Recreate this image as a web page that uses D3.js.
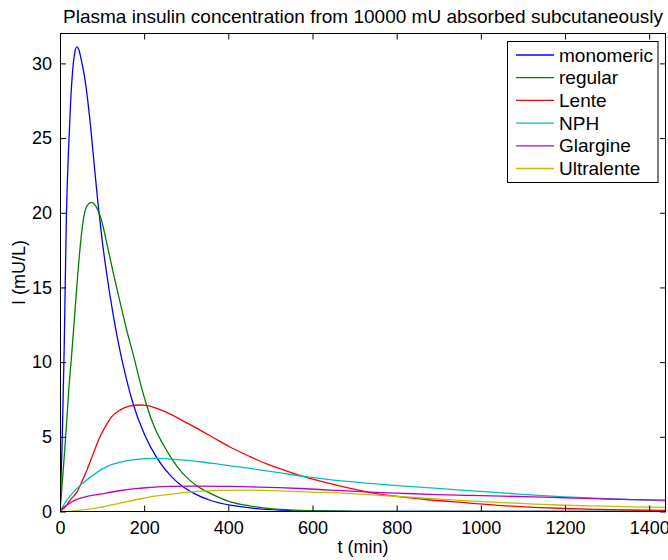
<!DOCTYPE html>
<html>
<head>
<meta charset="utf-8">
<script src="https://cdn.jsdelivr.net/npm/d3@7"></script>
<style>
  html, body { margin: 0; padding: 0; background: #fff; }
  svg { display: block; }
  text { font-family: "Liberation Sans", Arial, Helvetica, sans-serif; fill: #000; }
</style>
</head>
<body>
<svg id="chart" width="668" height="560"></svg>
<script>
// ---- data ----
const titleText = "Plasma insulin concentration from 10000 mU absorbed subcutaneously";
const xLabel = "t (min)";
const yLabel = "I (mU/L)";
const xTicks = [0, 200, 400, 600, 800, 1000, 1200, 1400];
const yTicks = [0, 5, 10, 15, 20, 25, 30];
const xDomain = [0, 1440];
const yDomain = [0, 32];

const seriesNames = ["monomeric", "regular", "Lente", "NPH", "Glargine", "Ultralente"];
const seriesColors = ["#0000ff", "#008000", "#ff0000", "#00bfbf", "#bf00bf", "#bfbf00"];

const monomericT = [0, 5, 10, 15, 20, 25, 30, 35, 40, 45, 50, 60, 70, 80, 90, 100, 110, 125, 140, 155, 175, 200, 232, 266, 290, 317, 360, 405, 460, 524, 600, 700, 800, 1440];
const monomericV = [0, 4.5, 11, 19.5, 24, 27.3, 29.5, 30.7, 31.1, 30.9, 30.3, 28.8, 26.5, 23.6, 20.7, 18.2, 16.1, 13.4, 11.1, 9.2, 7.1, 5.2, 3.5, 2.3, 1.7, 1.23, 0.72, 0.42, 0.21, 0.09, 0.035, 0.01, 0, 0];

const regularT = [0, 7, 14, 21, 28, 35, 42, 50, 57, 65, 75, 85, 92, 99, 114, 128, 142, 158, 175, 190, 206, 225, 245, 266, 290, 310, 329, 349, 375, 405, 450, 524, 600, 700, 800, 1440];
const regularV = [0, 2.5, 5.2, 8.2, 10.6, 13.2, 15.8, 18.3, 19.8, 20.5, 20.7, 20.45, 20.05, 19.45, 17.6, 15.8, 14.1, 12.2, 10.4, 8.7, 7.1, 5.6, 4.5, 3.5, 2.6, 2.05, 1.65, 1.33, 0.98, 0.64, 0.38, 0.14, 0.05, 0.012, 0, 0];

const lenteT = [0, 12, 25, 40, 52, 65, 78, 95, 110, 123, 143, 165, 190, 206, 230, 260, 290, 333, 370, 405, 452, 490, 524, 583, 630, 690, 738, 810, 880, 968, 1050, 1127, 1200, 1286, 1360, 1440];
const lenteV = [0, 0.3, 0.8, 1.3, 2.0, 2.85, 3.8, 5.0, 5.8, 6.35, 6.8, 7.05, 7.13, 7.1, 6.9, 6.55, 6.1, 5.45, 4.85, 4.3, 3.67, 3.2, 2.85, 2.3, 1.95, 1.55, 1.27, 0.98, 0.77, 0.58, 0.4, 0.28, 0.2, 0.14, 0.1, 0.07];

const nphT = [0, 8, 16, 32, 50, 70, 95, 115, 143, 171, 198, 225, 250, 290, 333, 380, 452, 520, 583, 650, 720, 810, 880, 968, 1050, 1127, 1200, 1286, 1360, 1440];
const nphV = [0, 0.4, 0.75, 1.3, 1.8, 2.25, 2.75, 3.05, 3.3, 3.46, 3.53, 3.56, 3.54, 3.45, 3.33, 3.15, 2.88, 2.6, 2.33, 2.1, 1.92, 1.72, 1.58, 1.4, 1.25, 1.1, 0.98, 0.87, 0.79, 0.71];

const glargineT = [0, 5, 12, 24, 36, 60, 95, 140, 186, 214, 260, 333, 400, 452, 520, 571, 650, 738, 810, 880, 968, 1050, 1127, 1200, 1286, 1360, 1440];
const glargineV = [0, 0.2, 0.35, 0.58, 0.76, 0.98, 1.16, 1.39, 1.55, 1.61, 1.68, 1.7, 1.68, 1.65, 1.6, 1.54, 1.42, 1.3, 1.22, 1.15, 1.08, 1.03, 0.98, 0.92, 0.85, 0.8, 0.76];

const ultralenteT = [0, 28, 60, 95, 140, 186, 214, 250, 290, 333, 380, 452, 520, 600, 690, 760, 810, 880, 968, 1050, 1127, 1200, 1286, 1360, 1440];
const ultralenteV = [0, 0.03, 0.12, 0.27, 0.55, 0.82, 0.98, 1.12, 1.25, 1.36, 1.42, 1.43, 1.38, 1.3, 1.2, 1.08, 1.0, 0.87, 0.71, 0.6, 0.49, 0.42, 0.36, 0.31, 0.27];

const seriesT = [monomericT, regularT, lenteT, nphT, glargineT, ultralenteT];
const seriesV = [monomericV, regularV, lenteV, nphV, glargineV, ultralenteV];

// ---- layout ----
const svg = d3.select("#chart");
const plot = { left: 60, right: 666, top: 33.5, bottom: 511.5 };

const x = d3.scaleLinear().domain(xDomain).range([plot.left, plot.right]);
const y = d3.scaleLinear().domain(yDomain).range([plot.bottom, plot.top]);

svg.append("defs").append("clipPath").attr("id", "clip")
  .append("rect")
  .attr("x", plot.left).attr("y", plot.top)
  .attr("width", plot.right - plot.left).attr("height", plot.bottom - plot.top);

// curves
const line = d3.line()
  .x(d => x(d[0]))
  .y(d => y(d[1]))
  .curve(d3.curveMonotoneX);

const curves = svg.append("g").attr("clip-path", "url(#clip)");
seriesNames.forEach((name, i) => {
  const pts = seriesT[i].map((t, k) => [t, seriesV[i][k]]);
  curves.append("path")
    .datum(pts)
    .attr("fill", "none")
    .attr("stroke", seriesColors[i])
    .attr("stroke-width", 1.3)
    .attr("d", line);
});

// axes (ticks inward on all four sides)
const tickLen = 6;
const fontTick = 18;

const axBottom = svg.append("g").attr("transform", `translate(0,${plot.bottom})`)
  .call(d3.axisBottom(x).tickValues(xTicks).tickSizeInner(-tickLen).tickSizeOuter(0).tickPadding(10).tickFormat(d3.format("d")));
const axTop = svg.append("g").attr("transform", `translate(0,${plot.top})`)
  .call(d3.axisTop(x).tickValues(xTicks).tickSizeInner(-tickLen).tickSizeOuter(0).tickFormat(""));
const axLeft = svg.append("g").attr("transform", `translate(${plot.left},0)`)
  .call(d3.axisLeft(y).tickValues(yTicks).tickSizeInner(-tickLen).tickSizeOuter(0).tickPadding(8).tickFormat(d3.format("d")));
const axRight = svg.append("g").attr("transform", `translate(${plot.right},0)`)
  .call(d3.axisRight(y).tickValues(yTicks).tickSizeInner(-tickLen).tickSizeOuter(0).tickFormat(""));

[axBottom, axTop, axLeft, axRight].forEach(g => {
  g.select(".domain").remove();
  g.selectAll(".tick line").attr("stroke", "#000").attr("stroke-width", 1);
  g.selectAll("text").attr("font-size", fontTick)
    .attr("font-family", '"Liberation Sans", Arial, Helvetica, sans-serif').attr("fill", "#000");
});
axBottom.selectAll("text").attr("dy", "0.71em");

// frame
svg.append("rect")
  .attr("x", plot.left + 0.5).attr("y", plot.top)
  .attr("width", plot.right - plot.left - 1).attr("height", plot.bottom - plot.top)
  .attr("fill", "none").attr("stroke", "#000").attr("stroke-width", 1);

// title & labels
svg.append("text")
  .attr("x", (plot.left + plot.right) / 2).attr("y", 23)
  .attr("text-anchor", "middle").attr("font-size", 19)
  .text(titleText);

svg.append("text")
  .attr("x", (plot.left + plot.right) / 2).attr("y", 553)
  .attr("text-anchor", "middle").attr("font-size", 18)
  .text(xLabel);

svg.append("text")
  .attr("transform", `translate(25,${(plot.top + plot.bottom) / 2}) rotate(-90)`)
  .attr("text-anchor", "middle").attr("font-size", 18)
  .text(yLabel);

// legend
const legend = { x: 507.5, y: 41.5, w: 150.5, h: 141, row0: 55, rowGap: 22.7 };
const lg = svg.append("g");
lg.append("rect")
  .attr("x", legend.x).attr("y", legend.y)
  .attr("width", legend.w).attr("height", legend.h)
  .attr("fill", "#fff").attr("stroke", "#000").attr("stroke-width", 1);
seriesNames.forEach((name, i) => {
  const yy = legend.row0 + i * legend.rowGap;
  lg.append("line")
    .attr("x1", 516).attr("x2", 554).attr("y1", yy).attr("y2", yy)
    .attr("stroke", seriesColors[i]).attr("stroke-width", 1.3);
  lg.append("text")
    .attr("x", 559).attr("y", yy).attr("dy", "0.35em")
    .attr("font-size", 19)
    .text(name);
});
</script>
</body>
</html>
